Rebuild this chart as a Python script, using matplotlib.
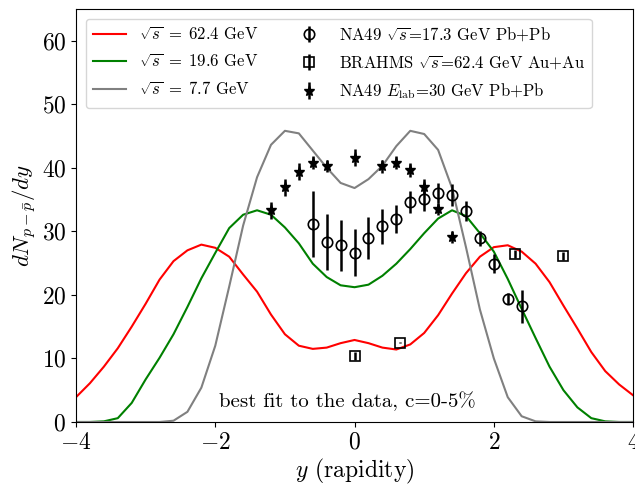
import numpy as np
import matplotlib
matplotlib.use("Agg")
import matplotlib.pyplot as plt

plt.rcParams['font.family'] = ['cmr10']
plt.rcParams['mathtext.fontset'] = 'cm'
plt.rcParams['axes.formatter.use_mathtext'] = True
plt.rcParams['font.size'] = 14

# modelo (grade de rapidez)
y_grid = np.round(np.arange(-4.0, 4.01, 0.2), 2)

dn_624 = [3.9, 6.1, 8.7, 11.6, 15.0, 18.6, 22.4, 25.3, 27.0, 27.9, 27.4,
          26.0, 23.2, 20.5, 16.9, 13.8, 12.0, 11.5, 11.7, 12.4, 12.9,
          12.4, 11.7, 11.4, 12.2, 14.0, 16.8, 20.2, 23.4, 26.0, 27.5,
          27.8, 26.8, 24.9, 22.0, 18.3, 14.7, 11.0, 8.0, 5.9, 4.2]
dn_196 = [0.0, 0.0, 0.1, 0.6, 3.0, 6.7, 10.1, 13.8, 18.1, 22.6, 26.6,
          30.5, 32.6, 33.3, 32.6, 30.6, 28.1, 24.9, 22.8, 21.5, 21.2,
          21.6, 23.0, 24.9, 27.2, 29.7, 32.0, 33.3, 32.4, 29.7, 26.8,
          22.5, 17.8, 13.2, 8.7, 5.0, 2.3, 0.6, 0.1, 0.0, 0.0]
dn_77 = [0.0, 0.0, 0.0, 0.0, 0.0, 0.0, 0.0, 0.2, 1.6, 5.4, 12.0,
         21.3, 30.9, 38.5, 43.6, 45.8, 45.4, 42.7, 40.0, 37.6, 36.8,
         38.2, 40.3, 43.4, 45.8, 45.3, 42.8, 36.8, 27.5, 17.7, 10.0,
         3.9, 0.9, 0.1, 0.0, 0.0, 0.0, 0.0, 0.0, 0.0, 0.0]

# NA49 sqrt(s)=17.3 GeV
y_na49 = [-0.6, -0.4, -0.2, 0.0, 0.2, 0.4, 0.6, 0.8, 1.0, 1.2, 1.4, 1.6,
          1.8, 2.0, 2.2, 2.4]
dn_na49 = [31.2, 28.3, 27.8, 26.6, 28.9, 30.8, 32.0, 34.6, 35.0, 36.0,
           35.7, 33.2, 28.9, 24.9, 19.4, 18.2]
err_na49 = [5.2, 4.4, 4.0, 3.7, 3.3, 2.75, 2.2, 1.8, 1.8, 1.6, 1.75, 1.6,
            1.2, 1.45, 0.9, 2.6]

# BRAHMS 62.4 GeV
y_brahms = [0.0, 0.65, 2.3, 3.0]
dn_brahms = [10.4, 12.5, 26.4, 26.1]
err_brahms = [0.6, 0.15, 0.6, 0.6]

# NA49 Elab=30 GeV
y_na49_30 = [-1.2, -1.0, -0.8, -0.6, -0.4, 0.0, 0.4, 0.6, 0.8, 1.0, 1.2, 1.4]
dn_na49_30 = [33.3, 36.9, 39.4, 40.8, 40.3, 41.6, 40.2, 40.8, 39.6, 37.0,
              33.5, 29.1]
err_na49_30 = [1.3, 1.3, 1.3, 1.0, 0.9, 1.3, 1.0, 1.0, 1.1, 1.2, 1.0, 1.0]

fig, ax = plt.subplots(figsize=(6.35, 4.87), dpi=100)
fig.subplots_adjust(left=0.1197, right=0.997, bottom=0.1335, top=0.982)

ax.plot(y_grid, dn_624, color='red', lw=1.5, label=r'$\sqrt{s}\;=\;62.4$ GeV')
ax.plot(y_grid, dn_196, color='green', lw=1.5, label=r'$\sqrt{s}\;=\;19.6$ GeV')
ax.plot(y_grid, dn_77, color='grey', lw=1.5, label=r'$\sqrt{s}\;=\;7.7$ GeV')

ax.errorbar(y_na49, dn_na49, yerr=err_na49, fmt='o', color='black',
            mfc='none', ms=7.5, mew=1.2, elinewidth=1.8,
            label=r'NA49 $\sqrt{s}$=17.3 GeV Pb+Pb')
ax.errorbar(y_brahms, dn_brahms, yerr=err_brahms, fmt='s', color='black',
            mfc='none', ms=6.5, mew=1.2, elinewidth=1.8,
            label=r'BRAHMS $\sqrt{s}$=62.4 GeV Au+Au')
ax.errorbar(y_na49_30, dn_na49_30, yerr=err_na49_30, fmt='*', color='black',
            ms=8, elinewidth=1.8,
            label=r'NA49 $E_{\rm lab}$=30 GeV Pb+Pb')

ax.text(-0.1, 3.3, 'best fit to the data, c=0-5%', ha='center', va='center',
        fontsize=15)

ax.set_xlim(-4, 4)
ax.set_ylim(0, 65)
ax.set_xticks([-4, -2, 0, 2, 4])
ax.set_yticks([0, 10, 20, 30, 40, 50, 60])
ax.tick_params(labelsize=17)
ax.set_xlabel(r'$y$ (rapidity)', fontsize=17, labelpad=2)
ax.set_ylabel(r'$dN_{p-\bar{p}}/dy$', fontsize=16.5, labelpad=2)

ax.legend(loc='upper left', ncol=2, fontsize=12, labelspacing=0.62,
          borderaxespad=0.6)

fig.savefig('out.png', dpi=100)
